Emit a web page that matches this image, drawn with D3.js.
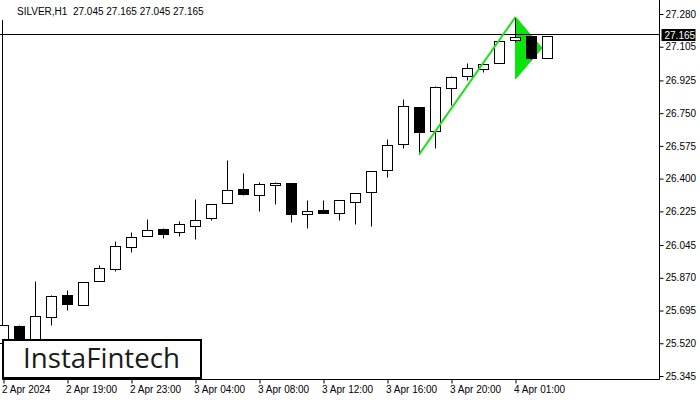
<!DOCTYPE html>
<head>
  <meta charset="utf-8">
  <script src="https://d3js.org/d3.v7.min.js"></script>
  <style>
    body { margin: 0; background: #fff; }
    svg { display: block; }
    .axis text { font-family: "Liberation Sans", Arial, sans-serif; font-size: 10px; fill: #000; }
  </style>
</head>
<body>
  <script>
    // chart values
    var opens  = [25.52, 25.613, 25.54, 25.661, 25.778, 25.725, 25.853, 25.917, 26.035, 26.093,
                  26.131, 26.115, 26.147, 26.190, 26.270, 26.345, 26.313, 26.366, 26.377, 26.211,
                  26.232, 26.216, 26.275, 26.329, 26.446, 26.585, 26.783, 26.655, 26.884, 26.949,
                  26.986, 27.018, 27.141, 27.162, 27.045];
    var highs  = [25.618, 25.615, 25.853, 25.778, 25.805, 25.848, 25.939, 26.067, 26.115, 26.184,
                  26.136, 26.174, 26.291, 26.265, 26.500, 26.430, 26.382, 26.382, 26.377, 26.286,
                  26.286, 26.286, 26.323, 26.441, 26.612, 26.826, 26.783, 26.895, 26.949, 27.018,
                  27.013, 27.136, 27.264, 27.162, 27.165];
    var lows   = [25.48, 25.50, 25.50, 25.618, 25.698, 25.725, 25.853, 25.906, 26.008, 26.093,
                  26.083, 26.093, 26.077, 26.179, 26.270, 26.313, 26.227, 26.264, 26.168, 26.136,
                  26.216, 26.179, 26.158, 26.147, 26.409, 26.564, 26.532, 26.564, 26.794, 26.927,
                  26.970, 27.018, 27.130, 27.040, 27.045];
    var closes = [25.618, 25.53, 25.666, 25.773, 25.730, 25.848, 25.922, 26.040, 26.088, 26.126,
                  26.104, 26.158, 26.179, 26.265, 26.339, 26.318, 26.371, 26.377, 26.211, 26.227,
                  26.216, 26.286, 26.323, 26.441, 26.580, 26.788, 26.649, 26.890, 26.943, 26.991,
                  27.013, 27.136, 27.157, 27.045, 27.165];

    var priceTicks = [27.280, 27.105, 26.925, 26.750, 26.575, 26.400, 26.225, 26.045, 25.870, 25.695, 25.520, 25.345];
    var timeTickBars = [0, 4, 8, 12, 16, 20, 24, 28, 32];
    var timeTickLabels = ['2 Apr 2024', '2 Apr 19:00', '2 Apr 23:00', '3 Apr 04:00', '3 Apr 08:00',
                          '3 Apr 12:00', '3 Apr 16:00', '3 Apr 20:00', '4 Apr 01:00'];

    var lastPrice = 27.165;
    var titleText = 'SILVER,H1  27.045 27.165 27.045 27.165';

    // pennant: pole from bar 26 low to bar 32 high, flag triangle after it
    var poleBars = [26, 32], polePrices = [26.532, 27.264];
    var flagBars = [32, 33.66, 32], flagPrices = [27.264, 27.098, 26.933];

    var width = 700, height = 400;
    var plotRight = 659.5, plotBottom = 379.5;

    var svg = d3.select('body').append('svg')
      .attr('width', width)
      .attr('height', height);

    // bar index -> x, price -> y
    var xScale = d3.scaleLinear().domain([0, 34]).range([3.5, 547.5]);
    var yScale = d3.scaleLinear().domain([25.345, 27.280]).range([376, 14]);

    var bars = opens.map(function(o, i) {
      return { i: i, o: o, h: highs[i], l: lows[i], c: closes[i] };
    });

    function snap(v) { return Math.round(v) + 0.5; }

    // frame
    svg.append('path')
      .attr('d', 'M2.5,20 V' + plotBottom + ' H' + plotRight + ' V0')
      .attr('fill', 'none')
      .attr('stroke', '#000')
      .attr('stroke-width', 1);

    // flag triangle goes under the candles
    var flagPts = flagBars.map(function(b, k) { return [xScale(b), yScale(flagPrices[k])]; });
    svg.append('path')
      .attr('d', d3.line()(flagPts) + 'Z')
      .attr('fill', '#0be30b')
      .attr('stroke', '#0be30b')
      .attr('stroke-width', 1);

    // current price line
    var lastY = Math.floor(yScale(lastPrice)) - 1 + 0.5;
    svg.append('line')
      .attr('x1', 0).attr('x2', plotRight)
      .attr('y1', lastY).attr('y2', lastY)
      .attr('stroke', '#000')
      .attr('stroke-width', 1);

    // candles
    var candle = svg.append('g').selectAll('g')
      .data(bars)
      .enter().append('g');

    candle.append('line')
      .attr('x1', function(d) { return xScale(d.i); })
      .attr('x2', function(d) { return xScale(d.i); })
      .attr('y1', function(d) { return snap(yScale(d.h)); })
      .attr('y2', function(d) { return snap(yScale(d.l)); })
      .attr('stroke', '#000')
      .attr('stroke-width', 1);

    candle.append('rect')
      .attr('x', function(d) { return xScale(d.i) - 5; })
      .attr('width', 10)
      .attr('y', function(d) { return snap(yScale(Math.max(d.o, d.c))); })
      .attr('height', function(d) {
        return Math.max(1, snap(yScale(Math.min(d.o, d.c))) - snap(yScale(Math.max(d.o, d.c))));
      })
      .attr('fill', function(d) { return d.c >= d.o ? '#fff' : '#000'; })
      .attr('stroke', '#000')
      .attr('stroke-width', 1);

    // pole line on top
    svg.append('line')
      .attr('x1', xScale(poleBars[0])).attr('y1', yScale(polePrices[0]))
      .attr('x2', xScale(poleBars[1])).attr('y2', yScale(polePrices[1]))
      .attr('stroke', '#1fe01f')
      .attr('stroke-width', 2);

    // right price axis
    var yAxis = d3.axisRight(yScale)
      .tickValues(priceTicks)
      .tickFormat(d3.format('.3f'))
      .tickSize(4)
      .tickPadding(2);

    var yg = svg.append('g')
      .attr('class', 'axis')
      .attr('transform', 'translate(' + plotRight + ',0)')
      .call(yAxis);
    yg.select('.domain').remove();

    // last price tag
    var tag = svg.append('g')
      .attr('transform', 'translate(' + (plotRight + 2) + ',' + lastY + ')');
    tag.append('rect')
      .attr('x', 0).attr('y', -5.5)
      .attr('width', 34).attr('height', 12)
      .attr('fill', '#000');
    tag.append('text')
      .attr('x', 3).attr('y', 4)
      .attr('font-family', '"Liberation Sans", Arial, sans-serif')
      .attr('font-size', '10px')
      .attr('fill', '#fff')
      .text(d3.format('.3f')(lastPrice));

    // bottom time axis
    var xAxis = d3.axisBottom(xScale)
      .tickValues(timeTickBars)
      .tickFormat(function(d, k) { return timeTickLabels[k]; })
      .tickSize(4)
      .tickPadding(2);

    var xg = svg.append('g')
      .attr('class', 'axis')
      .attr('transform', 'translate(0,' + plotBottom + ')')
      .call(xAxis);
    xg.select('.domain').remove();
    xg.selectAll('text')
      .attr('text-anchor', 'start')
      .attr('dx', -2);

    // title
    svg.append('text')
      .attr('x', 17).attr('y', 15)
      .attr('font-family', '"Liberation Sans", Arial, sans-serif')
      .attr('font-size', '10px')
      .attr('fill', '#000')
      .attr('xml:space', 'preserve')
      .style('white-space', 'pre')
      .text(titleText);

    // watermark box
    svg.append('rect')
      .attr('x', 3).attr('y', 340)
      .attr('width', 198).attr('height', 38)
      .attr('fill', '#fff')
      .attr('stroke', '#000')
      .attr('stroke-width', 2);
    svg.append('text')
      .attr('x', 23).attr('y', 368)
      .attr('font-family', '"Open Sans", Lato, sans-serif')
      .attr('font-size', '27px')
      .attr('fill', '#1a1a1a')
      .attr('textLength', 157)
      .attr('lengthAdjust', 'spacingAndGlyphs')
      .text('InstaFintech');
  </script>
</body>
